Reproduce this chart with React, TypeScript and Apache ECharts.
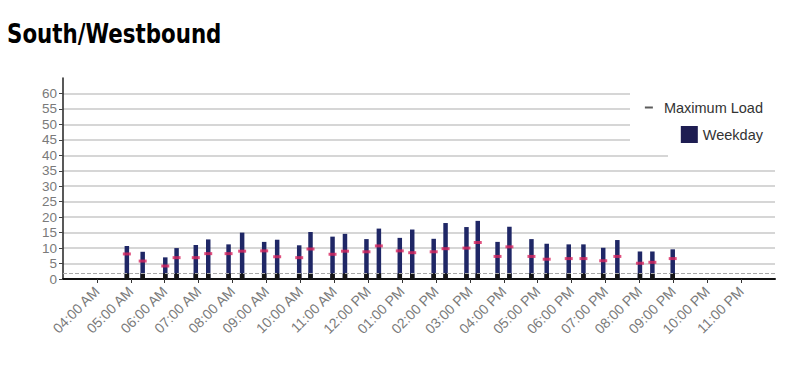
import React, { useEffect, useRef } from "react";
import * as echarts from "echarts";

const TITLE = "South/Westbound";
const TRIP_TIMES = ["04:53","05:21","06:01","06:21","06:55","07:17","07:53","08:17","08:56","09:19","09:58","10:18","10:57","11:19","11:57","12:19","12:56","13:18","13:56","14:17","14:54","15:14","15:49","16:10","16:49","17:16","17:55","18:21","18:56","19:21","20:01","20:23","20:59"];
const WEEKDAY = [10.7,8.8,7.0,10.0,11.0,12.8,11.2,15.0,12.0,12.7,10.9,15.2,13.7,14.6,12.9,16.3,13.3,16.0,13.0,18.1,16.8,18.8,12.0,16.9,12.9,11.4,11.2,11.2,10.1,12.6,8.9,8.9,9.6];
const MAX_LOAD = [8.1,5.8,4.2,6.9,6.9,8.2,8.2,9.0,9.1,7.2,6.9,9.7,8.0,9.0,8.8,10.7,9.1,8.5,8.8,9.8,10.0,11.8,7.3,10.4,7.3,6.4,6.6,6.6,5.9,7.3,5.1,5.4,6.6];
const BASE_LEVEL = 1.8;
const X_MIN_HOUR = 3;
const X_MAX_HOUR = 24;
const Y_MAX = 65;
const Y_STEP = 5;

const toHour = (t: string) => {
  const [h, m] = t.split(":").map(Number);
  return h + m / 60;
};
const hourLabel = (v: number) => {
  const h = Math.round(v) % 24;
  const suffix = h < 12 ? "AM" : "PM";
  let hh = h % 12;
  if (hh === 0) hh = 12;
  return `${String(hh).padStart(2, "0")}:00 ${suffix}`;
};

export default function App() {
  const ref = useRef<HTMLDivElement>(null);
  useEffect(() => {
    if (!ref.current) return;
    const chart = echarts.init(ref.current, undefined, { renderer: "svg" });
    const xs = TRIP_TIMES.map(toHour);
    const font = "Arial, 'Liberation Sans', Helvetica, sans-serif";
    chart.setOption({
      animation: false,
      backgroundColor: "#fff",
      grid: { left: 63, right: 29, top: 78, bottom: 102, containLabel: false },
      xAxis: {
        type: "value",
        min: X_MIN_HOUR,
        max: X_MAX_HOUR,
        interval: 1,
        splitLine: { show: false },
        axisLine: { show: true, lineStyle: { color: "#111", width: 2 } },
        axisTick: { show: true, length: 4, lineStyle: { color: "#333" } },
        axisLabel: {
          rotate: 45,
          showMinLabel: false,
          showMaxLabel: false,
          formatter: hourLabel,
          color: "#7a7a7a",
          fontSize: 14,
          fontFamily: font,
          margin: 10,
        },
      },
      yAxis: {
        type: "value",
        min: 0,
        max: Y_MAX,
        interval: Y_STEP,
        axisLine: { show: true, lineStyle: { color: "#222", width: 1.5 } },
        axisTick: { show: true, length: 4, lineStyle: { color: "#444" } },
        axisLabel: {
          showMaxLabel: false,
          color: "#7a7a7a",
          fontSize: 13.5,
          fontFamily: font,
          margin: 6,
        },
        splitLine: {
          show: true,
          showMinLine: false,
          showMaxLine: false,
          lineStyle: { color: "#c9c9c9", width: 1.5 },
        },
      },
      legend: [
        {
          data: [{ name: "Maximum Load", icon: "rect", itemStyle: { color: "#333" } }],
          right: 36,
          top: 95,
          itemWidth: 8,
          itemHeight: 2,
          z: 10,
          textStyle: { fontSize: 14.5, color: "#333", fontFamily: font, padding: [0, 0, 0, 6] },
        },
        {
          data: [{ name: "Weekday", icon: "rect", itemStyle: { color: "#1e1d52" } }],
          right: 36,
          top: 121,
          itemWidth: 17,
          itemHeight: 17,
          z: 10,
          textStyle: { fontSize: 14.5, color: "#333", fontFamily: font },
        },
      ],
      graphic: [
        { type: "rect", z: 5, shape: { x: 630, y: 82, width: 152, height: 66 }, style: { fill: "#fff" } },
        { type: "rect", z: 5, shape: { x: 668, y: 148, width: 114, height: 11 }, style: { fill: "#fff" } },
        {
          type: "text",
          z: 10,
          x: 7,
          y: 20,
          scaleX: 0.88,
          style: {
            text: TITLE,
            fill: "#000",
            font: "bold 27px 'DejaVu Sans Condensed', 'DejaVu Sans', sans-serif",
            textVerticalAlign: "top",
          },
        },
      ],
      series: [
        {
          name: "Weekday",
          type: "bar",
          barWidth: 4.5,
          barGap: "-100%",
          itemStyle: { color: "#1f2766" },
          data: xs.map((x, i) => [x, WEEKDAY[i]]),
          markLine: {
            silent: true,
            symbol: "none",
            label: { show: false },
            lineStyle: { type: "dashed", color: "#aaa", width: 1 },
            data: [{ yAxis: BASE_LEVEL }],
          },
        },
        {
          name: "base",
          type: "bar",
          barWidth: 4.5,
          barGap: "-100%",
          itemStyle: { color: "#151515" },
          data: xs.map((x, i) => [x, Math.min(BASE_LEVEL, WEEKDAY[i])]),
        },
        {
          name: "Maximum Load",
          type: "scatter",
          symbol: "rect",
          symbolSize: [8, 3],
          z: 4,
          itemStyle: { color: "#d8265f" },
          data: xs.map((x, i) => [x, MAX_LOAD[i]]),
        },
      ],
    });
    return () => chart.dispose();
  }, []);
  return (
    <div
      ref={ref}
      style={{ position: "fixed", left: 0, top: 0, width: 804, height: 381 }}
    />
  );
}
